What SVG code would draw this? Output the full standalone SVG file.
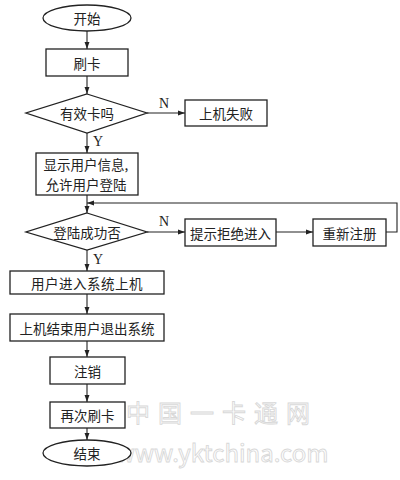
<svg xmlns="http://www.w3.org/2000/svg" width="400" height="480" viewBox="0 0 400 480">
<style>
.s{fill:#fff;stroke:#222;stroke-width:1.3}
.t{font-family:"Noto Sans CJK SC","Noto Sans CJK JP",sans-serif;font-size:13.5px;fill:#222;text-anchor:middle;dominant-baseline:central}
.l{font-family:"Liberation Serif",serif;font-size:14px;fill:#222;text-anchor:middle}
.c{fill:none;stroke:#222;stroke-width:1.1}
.w{font-family:"Noto Sans CJK SC",sans-serif;fill:#fff;stroke:#d8d8d8;stroke-width:0.9;text-anchor:middle}
</style>
<defs>
<marker id="a" viewBox="0 0 10 10" refX="10" refY="5" markerWidth="7" markerHeight="7" orient="auto" markerUnits="userSpaceOnUse">
<path d="M0,1.5 L10,5 L0,8.5 z" fill="#222"/>
</marker>
</defs>
<g id="watermark">
<text class="w" x="222" y="422" font-size="24" letter-spacing="8">中国一卡通网</text>
<text class="w" x="222" y="462" font-size="24" font-family="Liberation Sans">www.yktchina.com</text>
</g>
<g id="connectors">
<line class="c" x1="87" y1="31" x2="87" y2="49" marker-end="url(#a)"/>
<line class="c" x1="87" y1="76" x2="87" y2="94" marker-end="url(#a)"/>
<line class="c" x1="147" y1="113" x2="185" y2="113" marker-end="url(#a)"/>
<text class="l" x="164" y="108">N</text>
<line class="c" x1="87" y1="133" x2="87" y2="153" marker-end="url(#a)"/>
<text class="l" x="98" y="146">Y</text>
<line class="c" x1="87" y1="195" x2="87" y2="213" marker-end="url(#a)"/>
<line class="c" x1="147" y1="232" x2="185" y2="232" marker-end="url(#a)"/>
<text class="l" x="164" y="226">N</text>
<line class="c" x1="276" y1="232" x2="313" y2="232" marker-end="url(#a)"/>
<polyline class="c" points="386,232 397,232 397,203 87,203" marker-end="url(#a)"/>
<line class="c" x1="87" y1="250" x2="87" y2="271" marker-end="url(#a)"/>
<text class="l" x="98" y="264">Y</text>
<line class="c" x1="87" y1="294" x2="87" y2="314" marker-end="url(#a)"/>
<line class="c" x1="87" y1="341" x2="87" y2="357" marker-end="url(#a)"/>
<line class="c" x1="87" y1="384" x2="87" y2="402" marker-end="url(#a)"/>
<line class="c" x1="87" y1="428" x2="87" y2="440" marker-end="url(#a)"/>
</g>
<g id="start"><ellipse class="s" cx="87" cy="18" rx="44" ry="13"/><text class="t" x="87" y="18">开始</text></g>
<g id="swipe"><rect class="s" x="46" y="49" width="82" height="27"/><text class="t" x="87" y="62.5">刷卡</text></g>
<g id="valid"><polygon class="s" points="87,94 147,113 87,133 26,113"/><text class="t" x="87" y="113">有效卡吗</text></g>
<g id="fail"><rect class="s" x="185" y="100" width="82" height="26"/><text class="t" x="226" y="113">上机失败</text></g>
<g id="show"><rect class="s" x="36" y="153" width="102" height="42"/><text class="t" x="86" y="164">显示用户信息,</text><text class="t" x="86" y="184">允许用户登陆</text></g>
<g id="login"><polygon class="s" points="87,213 147,232 87,250 26,232"/><text class="t" x="87" y="232">登陆成功否</text></g>
<g id="deny"><rect class="s" x="185" y="219" width="91" height="27"/><text class="t" x="230.5" y="232.5">提示拒绝进入</text></g>
<g id="reg"><rect class="s" x="313" y="219" width="73" height="27"/><text class="t" x="349.5" y="232.5">重新注册</text></g>
<g id="enter"><rect class="s" x="10" y="271" width="154" height="23"/><text class="t" x="87" y="282.5" letter-spacing="0.5">用户进入系统上机</text></g>
<g id="exit"><rect class="s" x="10" y="314" width="154" height="27"/><text class="t" x="87" y="327.5">上机结束用户退出系统</text></g>
<g id="logout"><rect class="s" x="50" y="357" width="75" height="27"/><text class="t" x="87.5" y="370.5">注销</text></g>
<g id="again"><rect class="s" x="50" y="402" width="75" height="26"/><text class="t" x="87.5" y="415">再次刷卡</text></g>
<g id="end"><ellipse class="s" cx="87" cy="453" rx="44" ry="13"/><text class="t" x="87" y="453">结束</text></g>
</svg>
